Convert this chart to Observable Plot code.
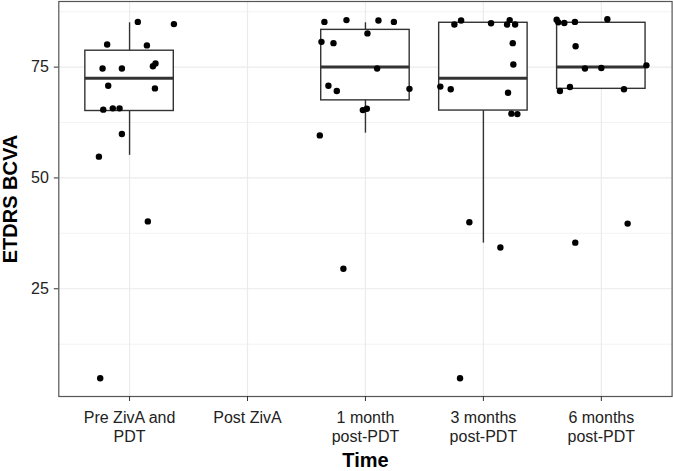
<!DOCTYPE html>
<html>
<head>
<meta charset="utf-8">
<script src="https://cdn.jsdelivr.net/npm/d3@7"></script>
<script src="https://cdn.jsdelivr.net/npm/@observablehq/plot@0.6"></script>
<style>
  html, body { margin: 0; padding: 0; background: #fff; }
  #chart svg { display: block; }
</style>
</head>
<body>
<div id="chart"></div>
<script>
// Category tick labels (x positions 1..5)
const groups = ["Pre ZivA and\nPDT", "Post ZivA", "1 month\npost-PDT", "3 months\npost-PDT", "6 months\npost-PDT"];

// Individual ETDRS BCVA values per time point, with horizontal jitter (in category units)
const preValues   = [85.2, 84.7, 80.1, 79.9, 74.7, 74.7, 75.2, 75.8, 70.8, 70.2, 65.4, 65.7, 65.7, 59.9, 54.8, 40.2, 4.8];
const preJitter   = [0.07, 0.376, -0.19, 0.147, -0.229, -0.065, 0.198, 0.22, -0.181, 0.215, -0.223, -0.142, -0.085, -0.065, -0.26, 0.155, -0.249];
const m1Values    = [85.2, 85.6, 85.5, 85.2, 82.6, 80.7, 80.4, 74.7, 70.8, 69.6, 70.1, 65.3, 65.6, 59.6, 29.5];
const m1Jitter    = [-0.348, -0.161, 0.11, 0.241, 0.017, -0.373, -0.271, 0.099, -0.314, -0.243, 0.373, -0.022, 0.012, -0.387, -0.187];
const m3Values    = [84.6, 85.5, 84.9, 84.6, 85.6, 84.6, 80.4, 75.6, 70.6, 70.0, 69.2, 64.5, 64.4, 40.0, 34.3, 4.8];
const m3Jitter    = [-0.246, -0.189, 0.065, 0.201, 0.223, 0.269, 0.249, 0.254, -0.365, -0.277, 0.209, 0.237, 0.288, -0.119, 0.144, -0.198];
const m6Values    = [85.7, 85.1, 84.95, 85.2, 85.8, 79.7, 74.7, 74.8, 75.4, 69.6, 70.5, 70.0, 39.7, 35.4];
const m6Jitter    = [-0.379, -0.365, -0.314, -0.224, 0.051, -0.218, -0.139, 0.0, 0.382, -0.351, -0.266, 0.192, 0.223, -0.221];

// Box summaries
const boxGroup    = [1, 3, 4, 5];
const boxQ1       = [65.1, 67.5, 65.2, 70.1];
const boxMedian   = [72.5, 75.0, 72.5, 75.0];
const boxQ3       = [78.7, 83.4, 85.0, 85.0];
const boxLow      = [55.1, 60.1, 35.3, 70.1];
const boxHigh     = [85.0, 85.0, 85.0, 85.0];

const yTicks = [25, 50, 75];
const yMinor = [12.5, 37.5, 62.5, 87.5];

// Build tables
const points = [];
[[1, preValues, preJitter], [3, m1Values, m1Jitter], [4, m3Values, m3Jitter], [5, m6Values, m6Jitter]]
  .forEach(([g, vals, jit]) => vals.forEach((v, i) => points.push({x: g + jit[i], y: v})));
const boxes = boxGroup.map((g, i) => ({
  g, x1: g - 0.375, x2: g + 0.375, q1: boxQ1[i], med: boxMedian[i], q3: boxQ3[i], lo: boxLow[i], hi: boxHigh[i]
}));

const font = "'Liberation Sans', Arial, Helvetica, sans-serif";
const boxColor = "#333333";

const chart = Plot.plot({
  width: 673,
  height: 471,
  marginLeft: 58.3,
  marginRight: 1.4,
  marginTop: 1,
  marginBottom: 75,
  style: {fontFamily: font, background: "#fff", color: "#222"},
  x: {domain: [0.4, 5.6]},
  y: {domain: [0.7, 89.8]},
  marks: [
    Plot.gridY({ticks: yMinor, stroke: "#ebebeb", strokeOpacity: 1, strokeWidth: 0.6}),
    Plot.gridY({ticks: yTicks, stroke: "#ebebeb", strokeOpacity: 1, strokeWidth: 1.2}),
    Plot.gridX({ticks: [1, 2, 3, 4, 5], stroke: "#ebebeb", strokeOpacity: 1, strokeWidth: 1.2}),
    Plot.ruleX(boxes, {x: "g", y1: "lo", y2: "hi", stroke: boxColor, strokeWidth: 1.4}),
    Plot.rect(boxes, {x1: "x1", x2: "x2", y1: "q1", y2: "q3", fill: "white", stroke: boxColor, strokeWidth: 1.4}),
    Plot.ruleY(boxes, {y: "med", x1: "x1", x2: "x2", stroke: boxColor, strokeWidth: 3}),
    Plot.dot(points, {x: "x", y: "y", r: 3.2, fill: "black", stroke: "none"}),
    Plot.frame({stroke: "#555", strokeWidth: 1.2}),
    Plot.axisY({ticks: yTicks, tickSize: 4.5, tickPadding: 5.5, fontSize: 16, label: null, stroke: "#333", fill: "#222"}),
    Plot.axisX({ticks: [1, 2, 3, 4, 5], tickFormat: d => groups[d - 1], tickSize: 5, tickPadding: 8, fontSize: 16, lineHeight: 1.2, label: null, stroke: "#333", fill: "#222"}),
    Plot.text(["Time"], {frameAnchor: "bottom", dy: 70.5, lineAnchor: "bottom", fontSize: 20, fontWeight: "bold", fill: "#000"}),
    Plot.text(["ETDRS BCVA"], {frameAnchor: "left", dx: -41.5, rotate: -90, lineAnchor: "bottom", textAnchor: "middle", fontSize: 20, fontWeight: "bold", fill: "#000"})
  ]
});
document.getElementById("chart").appendChild(chart);
</script>
</body>
</html>
